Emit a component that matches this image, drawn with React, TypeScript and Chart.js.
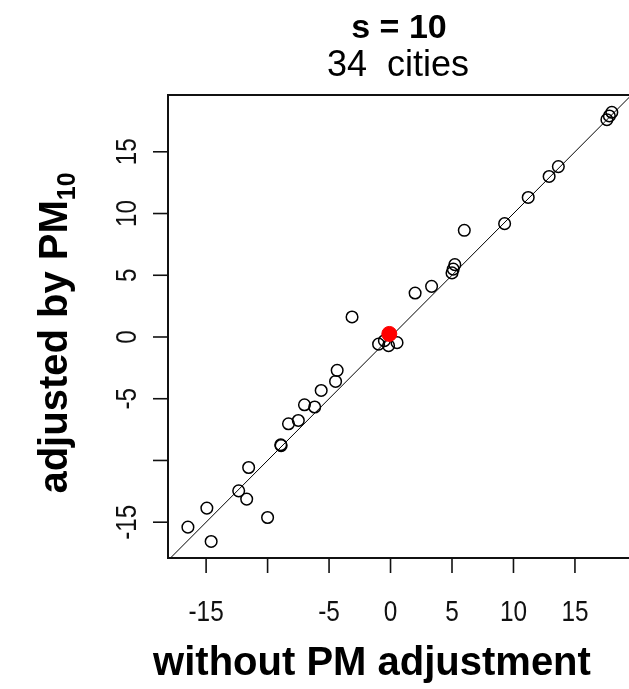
import React, { useEffect, useRef } from "react";
import { Chart, registerables } from "chart.js";

Chart.register(...registerables);

const titleText = "s = 10";
const subtitleText = "34  cities";
const xTitle = "without PM adjustment";
const yTitleMain = "adjusted by PM";
const yTitleSub = "10";

const xVals = [17.6, 18.0, 17.8, 12.9, 13.65, 11.2, 9.28, 6.0, 5.23, 5.0, 5.1, 3.34, 2.0, -3.13, -0.97, -0.16, 0.53, -0.5, -4.34, -4.47, -5.64, -7.0, -6.17, -8.3, -7.5, -8.93, -8.9, -11.54, -12.35, -11.7, -14.94, -16.48, -14.59, -10.0];
const yVals = [17.6, 18.2, 17.9, 13.0, 13.8, 11.3, 9.18, 8.64, 5.86, 5.19, 5.5, 4.1, 3.56, 1.62, -0.58, -0.7, -0.46, -0.3, -2.7, -3.6, -4.33, -5.49, -5.67, -7.03, -6.76, -8.73, -8.8, -10.57, -12.46, -13.13, -13.86, -15.4, -16.56, -14.62];

const pooledX = [-0.1];
const pooledY = [0.25];

const xTicks = [-15, -10, -5, 0, 5, 10, 15];
const xTickLabels = ["-15", "", "-5", "0", "5", "10", "15"];
const yTicks = [-15, -10, -5, 0, 5, 10, 15];
const yTickLabels = ["-15", "", "-5", "0", "5", "10", "15"];

const xMin = -18.1;
const xMax = 19.6;
const yMin = -17.9;
const yMax = 19.6;

const FONT = "'Liberation Sans', Arial, sans-serif";

const axesPlugin = {
  id: "rAxes",
  afterDraw(chart: any) {
    const ctx = chart.ctx;
    const { left, right, top, bottom } = chart.chartArea;
    const xs = chart.scales.x;
    const ys = chart.scales.y;
    ctx.save();
    ctx.strokeStyle = "#111";
    ctx.fillStyle = "#111";
    ctx.lineWidth = 2;
    ctx.strokeRect(left, top, right - left, bottom - top);
    ctx.lineWidth = 1.6;
    const tl = 15;
    ctx.font = `29px ${FONT}`;
    ctx.textAlign = "center";
    ctx.textBaseline = "middle";
    const squeeze = 0.84;
    xTicks.forEach((v, i) => {
      const px = xs.getPixelForValue(v);
      ctx.beginPath();
      ctx.moveTo(px, bottom);
      ctx.lineTo(px, bottom + tl);
      ctx.stroke();
      if (xTickLabels[i]) {
        ctx.save();
        ctx.translate(px, 613);
        ctx.scale(squeeze, 1);
        ctx.fillText(xTickLabels[i], 0, 0);
        ctx.restore();
      }
    });
    yTicks.forEach((v, i) => {
      const py = ys.getPixelForValue(v);
      ctx.beginPath();
      ctx.moveTo(left, py);
      ctx.lineTo(left - tl, py);
      ctx.stroke();
      if (yTickLabels[i]) {
        ctx.save();
        ctx.translate(128, py);
        ctx.rotate(-Math.PI / 2);
        ctx.scale(squeeze, 1);
        ctx.fillText(yTickLabels[i], 0, 0);
        ctx.restore();
      }
    });
    // titles
    ctx.fillStyle = "#000";
    ctx.font = `bold 34px ${FONT}`;
    ctx.fillText(titleText, 399, 29);
    ctx.font = `36px ${FONT}`;
    ctx.fillText(subtitleText, 398, 66);
    ctx.textBaseline = "alphabetic";
    ctx.font = `bold 40px ${FONT}`;
    ctx.fillText(xTitle, 372, 675);
    // y title with subscript
    ctx.save();
    ctx.translate(67, 0);
    ctx.rotate(-Math.PI / 2);
    ctx.font = `bold 40px ${FONT}`;
    const wMain = ctx.measureText(yTitleMain).width;
    ctx.font = `bold 25px ${FONT}`;
    const wSub = ctx.measureText(yTitleSub).width;
    const total = wMain + wSub;
    const cy = 333;
    const start = -cy - total / 2;
    ctx.textAlign = "left";
    ctx.font = `bold 40px ${FONT}`;
    ctx.fillText(yTitleMain, start, 0);
    ctx.font = `bold 25px ${FONT}`;
    ctx.fillText(yTitleSub, start + wMain, 8);
    ctx.restore();
    ctx.restore();
  },
};

export default function App() {
  const ref = useRef<HTMLCanvasElement | null>(null);
  useEffect(() => {
    if (!ref.current) return;
    const chart = new Chart(ref.current, {
      type: "scatter",
      data: {
        datasets: [
          {
            label: "pooled",
            data: pooledX.map((x, i) => ({ x, y: pooledY[i] })),
            pointStyle: "circle",
            pointRadius: 7.5,
            pointBackgroundColor: "#ff0000",
            pointBorderColor: "#ff0000",
            pointBorderWidth: 1,
          },
          {
            label: "cities",
            data: xVals.map((x, i) => ({ x, y: yVals[i] })),
            pointStyle: "circle",
            pointRadius: 5.8,
            pointBackgroundColor: "rgba(0,0,0,0)",
            pointBorderColor: "#000",
            pointBorderWidth: 1.5,
          },
          {
            type: "line",
            label: "identity",
            data: [
              { x: xMin, y: xMin },
              { x: xMax, y: xMax },
            ],
            borderColor: "#000",
            borderWidth: 1,
            pointRadius: 0,
            showLine: true,
          } as any,
        ],
      },
      options: {
        animation: false,
        responsive: true,
        maintainAspectRatio: false,
        layout: { padding: { left: 168, top: 95, right: 6, bottom: 131 } },
        plugins: { legend: { display: false }, tooltip: { enabled: false }, title: { display: false } },
        scales: {
          x: { type: "linear", min: xMin, max: xMax, display: false },
          y: { type: "linear", min: yMin, max: yMax, display: false },
        },
      },
      plugins: [axesPlugin],
    });
    return () => chart.destroy();
  }, []);
  return (
    <div style={{ position: "fixed", left: 0, top: 0, width: 629, height: 689, overflow: "hidden", background: "#fff" }}>
      <div style={{ position: "relative", width: 640, height: 689 }}>
        <canvas ref={ref} />
      </div>
    </div>
  );
}
